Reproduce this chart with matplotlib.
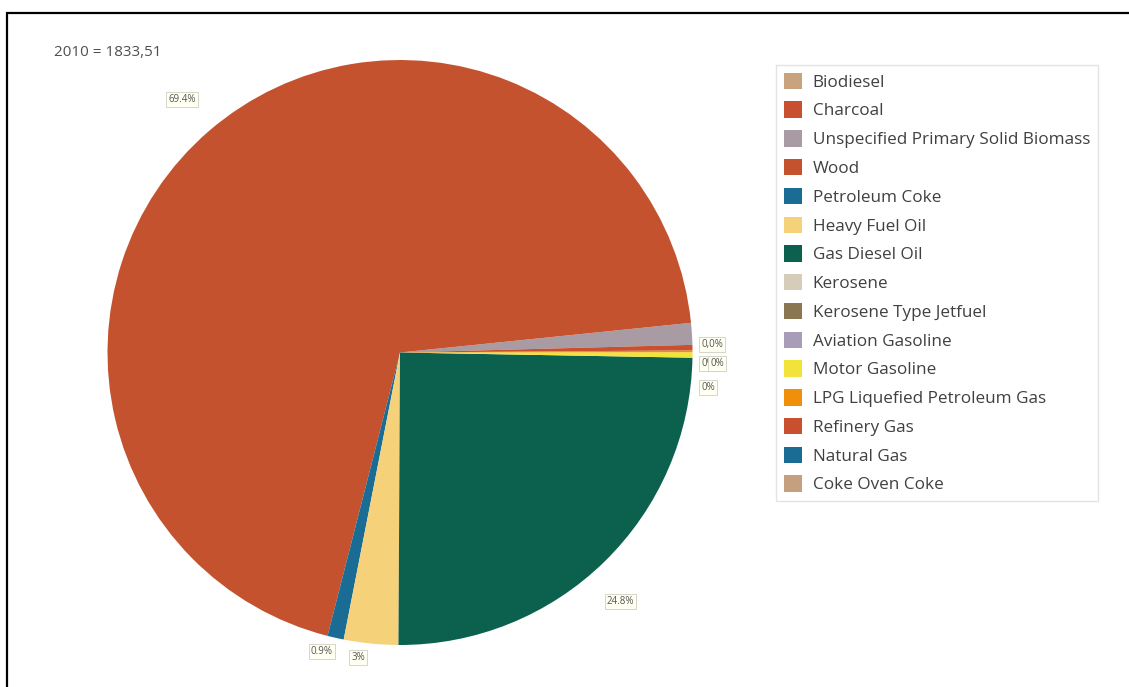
import numpy as np
import matplotlib
matplotlib.use('Agg')
import matplotlib.pyplot as plt
from matplotlib.patches import Patch, Rectangle

plt.rcParams['font.family'] = ['Open Sans', 'DejaVu Sans']

# energy carriers, share of total (%)
fuels = ['Biodiesel', 'Charcoal', 'Unspecified Primary Solid Biomass', 'Wood',
         'Petroleum Coke', 'Heavy Fuel Oil', 'Gas Diesel Oil', 'Kerosene',
         'Kerosene Type Jetfuel', 'Aviation Gasoline', 'Motor Gasoline',
         'LPG Liquefied Petroleum Gas', 'Refinery Gas', 'Natural Gas', 'Coke Oven Coke']
shares = [0.0, 0.0, 1.2, 69.4, 0.9, 3.0, 24.8, 0.0, 0.0, 0.0, 0.3, 0.1, 0.3, 0.0, 0.0]
labels = ['0,0%', '', '', '69.4%', '0.9%', '3%', '24.8%', '0%', '0%', '0%',
          '', '', '', '', '']
colors = ['#C9A27E', '#C8502E', '#A89BA3', '#C4522E', '#1A6C94', '#F5D27A',
          '#0B614E', '#D6CCBA', '#8A7650', '#A99CB8', '#F2E33B', '#F0900A',
          '#C8502E', '#1A6C94', '#C4A07E']
title = '2010 = 1833,51'

W, H = 1129, 687
fig = plt.figure(figsize=(W / 100, H / 100), dpi=100)

# pie centred at (400, 352) px with radius 292 px
cx, cy, r = 400, 352.5, 292.5
ax = fig.add_axes([(cx - r) / W, (H - cy - r) / H, 2 * r / W, 2 * r / H])
wedges, _ = ax.pie(shares, colors=colors, startangle=1.5, counterclock=True,
                   wedgeprops=dict(linewidth=0))
ax.set_xlim(-1, 1)
ax.set_ylim(-1, 1)
ax.set_aspect('equal')
ax.axis('off')

box = dict(boxstyle='square,pad=0.2', fc='#FFFFF2', ec='#CFCFC0', lw=0.6)
# small shifts so labels don't sit on top of each other
nudge = {'Wood': (2, 8), 'Petroleum Coke': (-12, 0), 'Heavy Fuel Oil': (-12, 0),
         'Gas Diesel Oil': (-14, -18),
         'Kerosene': (0, -6), 'Kerosene Type Jetfuel': (9, -6), 'Aviation Gasoline': (0, -30)}
for w, lab, name in zip(wedges, labels, fuels):
    if not lab:
        continue
    th = np.deg2rad((w.theta1 + w.theta2) / 2)
    c, s = np.cos(th), np.sin(th)
    ha = 'center' if abs(c) < 0.3 else ('left' if c > 0 else 'right')
    va = 'center' if abs(s) < 0.3 else ('bottom' if s > 0 else 'top')
    rr = 1.03 if (ha == 'center' or va == 'center') else 1.08
    ax.annotate(lab, (rr * c, rr * s), xytext=nudge.get(name, (0, 0)),
                textcoords='offset pixels', ha=ha, va=va, fontsize=7,
                color='#555555', bbox=box, annotation_clip=False)

fig.text(54 / W, 1 - 52 / H, title, fontsize=11, color='#505050', va='center', ha='left')

handles = [Patch(facecolor=c, edgecolor='none') for c in colors]
leg = fig.legend(handles, fuels, loc='upper left', bbox_to_anchor=(776 / W, 1 - 65 / H),
                 fontsize=12.3, frameon=True, fancybox=False, borderpad=0.45,
                 labelspacing=0.63, handlelength=1.1, handleheight=1.1,
                 handletextpad=0.6, borderaxespad=0)
leg.get_frame().set_edgecolor('#DDDDDD')
leg.get_frame().set_linewidth(1.0)
for t in leg.get_texts():
    t.set_color('#404040')

# outer frame, open to the right and bottom
fig.add_artist(Rectangle((7 / W, -0.1), 1.2, 1.1 - 13 / H, transform=fig.transFigure,
                         fill=False, ec='black', lw=1.6))

fig.savefig('out.png', dpi=100, facecolor='white')
